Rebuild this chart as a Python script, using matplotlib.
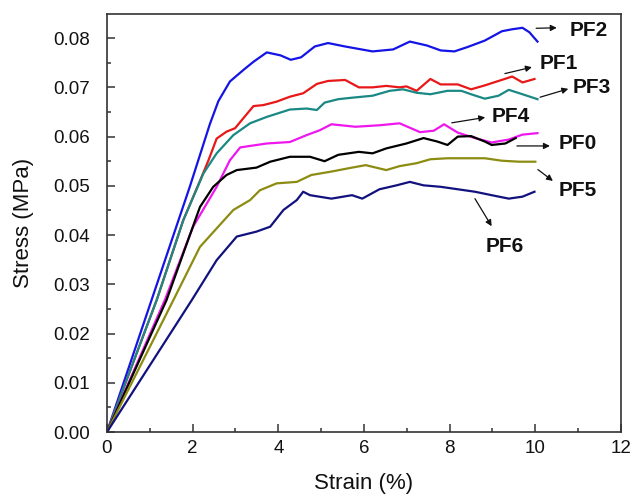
import matplotlib
matplotlib.use("Agg")
import matplotlib.pyplot as plt
from matplotlib.ticker import MultipleLocator, FormatStrFormatter

plt.rcParams['font.family'] = ['Liberation Sans', 'DejaVu Sans']

# ---- data ----
pf2_x = [0, 1.04, 1.94, 2.40, 2.60, 2.87, 3.18, 3.42, 3.73, 4.05, 4.29, 4.53, 4.85, 5.16, 5.56, 6.20,
         6.68, 7.07, 7.47, 7.79, 8.11, 8.42, 8.82, 9.22, 9.46, 9.70, 9.86, 10.05]
pf2_y = [0, 0.0268, 0.0500, 0.0625, 0.0672, 0.0712, 0.0735, 0.0752, 0.0771, 0.0765, 0.0756, 0.0761,
         0.0783, 0.0790, 0.0783, 0.0773, 0.0777, 0.0793, 0.0785, 0.0775, 0.0773, 0.0782, 0.0795, 0.0814,
         0.0818, 0.0821, 0.0812, 0.0793]

pf1_x = [0, 1.16, 1.78, 2.17, 2.37, 2.56, 2.79, 2.99, 3.18, 3.42, 3.65, 3.96, 4.27, 4.58, 4.90, 5.16,
         5.56, 5.88, 6.20, 6.52, 6.83, 6.99, 7.23, 7.55, 7.79, 8.19, 8.50, 8.82, 9.14, 9.46, 9.70, 9.98]
pf1_y = [0, 0.0268, 0.0430, 0.0510, 0.0552, 0.0596, 0.0610, 0.0617, 0.0637, 0.0662, 0.0664, 0.0671,
         0.0681, 0.0688, 0.0707, 0.0713, 0.0715, 0.0700, 0.0700, 0.0703, 0.0700, 0.0702, 0.0693, 0.0717,
         0.0706, 0.0706, 0.0696, 0.0704, 0.0713, 0.0722, 0.0710, 0.0717]

pf3_x = [0, 1.16, 1.78, 2.25, 2.56, 2.95, 3.34, 3.73, 4.27, 4.66, 4.90, 5.08, 5.40, 5.72, 6.20, 6.60,
         6.91, 7.23, 7.55, 7.95, 8.27, 8.50, 8.82, 9.14, 9.38, 9.70, 10.05]
pf3_y = [0, 0.0268, 0.0430, 0.0525, 0.0566, 0.0603, 0.0627, 0.0640, 0.0655, 0.0657, 0.0654, 0.0669,
         0.0676, 0.0679, 0.0683, 0.0693, 0.0696, 0.0689, 0.0686, 0.0693, 0.0693, 0.0686, 0.0677, 0.0683,
         0.0695, 0.0686, 0.0676]

pf4_x = [0, 1.35, 2.01, 2.56, 2.87, 3.11, 3.34, 3.73, 4.27, 4.66, 4.97, 5.24, 5.80, 6.36, 6.83, 7.31,
         7.63, 7.87, 8.19, 8.59, 8.98, 9.38, 9.70, 10.05]
pf4_y = [0, 0.0268, 0.0417, 0.0498, 0.0552, 0.0578, 0.0581, 0.0586, 0.0589, 0.0603, 0.0613, 0.0625,
         0.0620, 0.0623, 0.0627, 0.0609, 0.0612, 0.0625, 0.0608, 0.0597, 0.0588, 0.0594, 0.0604, 0.0607]

pf0_x = [0, 1.39, 2.17, 2.48, 2.79, 3.03, 3.49, 3.81, 4.27, 4.74, 5.08, 5.40, 5.88, 6.20, 6.52, 6.99,
         7.39, 7.71, 7.95, 8.19, 8.50, 8.82, 8.98, 9.30, 9.54]
pf0_y = [0, 0.0268, 0.0457, 0.0498, 0.0522, 0.0532, 0.0537, 0.0549, 0.0559, 0.0559, 0.0550, 0.0563,
         0.0569, 0.0566, 0.0576, 0.0586, 0.0597, 0.0590, 0.0583, 0.0600, 0.0601, 0.0590, 0.0583, 0.0586,
         0.0597]

pf5_x = [0, 1.55, 2.17, 2.95, 3.34, 3.57, 3.96, 4.43, 4.77, 5.24, 5.72, 6.04, 6.52, 6.83, 7.23, 7.55,
         7.95, 8.43, 8.82, 9.22, 9.62, 10.0]
pf5_y = [0, 0.0268, 0.0376, 0.0451, 0.0471, 0.0491, 0.0505, 0.0508, 0.0522, 0.0529, 0.0537, 0.0542,
         0.0532, 0.0540, 0.0546, 0.0554, 0.0556, 0.0556, 0.0556, 0.0551, 0.0549, 0.0549]

pf6_x = [0, 1.98, 2.56, 3.03, 3.49, 3.81, 4.12, 4.43, 4.58, 4.74, 5.24, 5.72, 5.96, 6.36, 6.76, 7.07,
         7.39, 7.79, 8.19, 8.59, 8.98, 9.38, 9.70, 9.98]
pf6_y = [0, 0.0268, 0.0349, 0.0397, 0.0407, 0.0417, 0.0451, 0.0471, 0.0488, 0.0481, 0.0474, 0.0481,
         0.0474, 0.0493, 0.0501, 0.0508, 0.0501, 0.0498, 0.0493, 0.0488, 0.0481, 0.0474, 0.0478, 0.0488]

series_names = ['PF2', 'PF1', 'PF3', 'PF4', 'PF0', 'PF5', 'PF6']
x_ticks = [0, 2, 4, 6, 8, 10, 12]
y_ticks = [0.00, 0.01, 0.02, 0.03, 0.04, 0.05, 0.06, 0.07, 0.08]

# ---- styling / layout ----
series = {
    'PF2': (pf2_x, pf2_y, '#1414e6'),
    'PF1': (pf1_x, pf1_y, '#e81818'),
    'PF3': (pf3_x, pf3_y, '#1a8884'),
    'PF4': (pf4_x, pf4_y, '#ee18ee'),
    'PF0': (pf0_x, pf0_y, '#000000'),
    'PF5': (pf5_x, pf5_y, '#8c8c12'),
    'PF6': (pf6_x, pf6_y, '#12127e'),
}
# (text left x, text y, arrow tail, arrow head) in data coordinates
label_layout = {
    'PF2': (10.81, 0.0815, (10.02, 0.0820), (10.50, 0.0821)),
    'PF1': (10.11, 0.0749, (9.29, 0.0728), (9.92, 0.0741)),
    'PF3': (10.87, 0.0700, (10.11, 0.0680), (10.77, 0.0697)),
    'PF4': (8.98, 0.0640, (8.05, 0.0628), (8.83, 0.0639)),
    'PF0': (10.54, 0.0586, (9.57, 0.0581), (10.34, 0.0581)),
    'PF5': (10.54, 0.0490, (10.06, 0.0533), (10.41, 0.0510)),
    'PF6': (8.83, 0.0376, (8.59, 0.0474), (8.98, 0.0418)),
}

fig = plt.figure(figsize=(6.34, 4.98), dpi=100)
ax = fig.add_axes([107 / 634, 66 / 498, 514 / 634, 418 / 498])

for name in series_names:
    xs, ys, c = series[name]
    ax.plot(xs, ys, color=c, lw=1.6, solid_joinstyle='round')

for name in series_names:
    tx, ty, tail, head = label_layout[name]
    ax.annotate('', xy=head, xytext=tail,
                arrowprops=dict(arrowstyle='-|>', color='#111111', lw=0.9,
                                mutation_scale=9, shrinkA=0, shrinkB=0))
    ax.text(tx, ty, name, ha='left', va='center', fontsize=15, fontweight='bold',
            color='#111111')

ax.set_xlim(0, 12)
ax.set_ylim(0, 0.0849)
ax.set_xticks(x_ticks)
ax.set_yticks(y_ticks)
ax.xaxis.set_minor_locator(MultipleLocator(1))
ax.yaxis.set_minor_locator(MultipleLocator(0.005))
ax.yaxis.set_major_formatter(FormatStrFormatter('%.2f'))
ax.tick_params(which='both', direction='in', top=False, right=False, color='#333333', width=1.1)
ax.tick_params(which='major', length=5.5, labelsize=13.5, labelcolor='#111111')
ax.tick_params(axis='y', which='major', pad=12)
ax.tick_params(axis='x', which='major', pad=6)
ax.tick_params(which='minor', length=3)
for s in ax.spines.values():
    s.set_color('#333333')
    s.set_linewidth(1.2)

ax.set_xlabel('Strain (%)', fontsize=16, labelpad=11, color='#111111')
ax.set_ylabel('Stress (MPa)', fontsize=16, labelpad=14, color='#111111')

fig.savefig('out.png', dpi=100)
